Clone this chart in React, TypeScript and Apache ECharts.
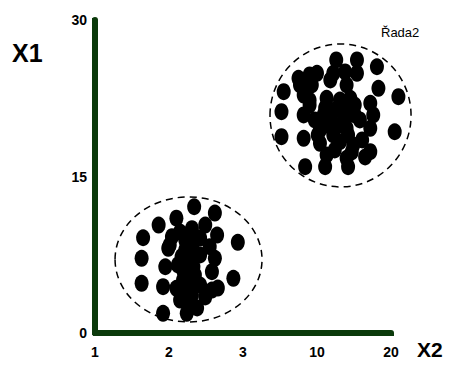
import React, { useEffect, useRef } from "react";
import * as echarts from "echarts";

const xTickLabels = ["1", "2", "3", "10", "20"];
const yTicks = [0, 15, 30];
const seriesName = "Řada2";

// cluster 1 points [x position (axis index units), X1 value]
const cluster1: number[][] = [
  [1.34, 12.1], [1.62, 11.5], [1.1, 11.0], [0.86, 10.35], [1.31, 10.0],
  [0.65, 9.13], [1.04, 9.23], [1.65, 9.39], [1.93, 8.69], [0.99, 8.12],
  [1.31, 8.12], [1.55, 8.27], [0.63, 7.16], [1.17, 7.31], [1.62, 7.16],
  [0.95, 6.35], [1.19, 6.04], [1.33, 6.35], [1.58, 5.88], [1.87, 5.24],
  [0.63, 4.76], [0.92, 4.44], [1.1, 4.28], [1.31, 4.76], [1.31, 3.64],
  [1.49, 3.45], [1.58, 4.12], [1.28, 2.68], [0.92, 1.89], [1.24, 1.89],
  [1.22, 8.91], [1.26, 7.0], [1.19, 5.08], [1.42, 9.1], [1.2, 3.2],
  [1.15, 9.68], [1.35, 8.91], [1.22, 7.96], [1.42, 7.48], [1.12, 6.52],
  [1.35, 5.56], [1.22, 4.12], [1.42, 4.6], [1.15, 3.16], [1.38, 2.4],
  [1.49, 10.35], [1.01, 8.43], [1.66, 4.31],
];

// cluster 2 points
const cluster2: number[][] = [
  [3.26, 26.17], [3.54, 26.17], [3.81, 25.52], [3.0, 24.89], [2.75, 24.41],
  [3.22, 24.89], [3.54, 24.89], [3.4, 23.77], [2.93, 23.77], [2.55, 23.13],
  [3.83, 23.45], [4.1, 22.65], [2.82, 22.81], [3.13, 22.5], [3.45, 22.5],
  [3.72, 22.02], [2.52, 21.21], [2.82, 20.9], [3.09, 20.9], [3.36, 21.21],
  [3.76, 20.9], [3.13, 19.94], [3.4, 19.62], [3.72, 19.62], [4.05, 19.29],
  [2.52, 18.82], [2.82, 18.66], [3.04, 18.18], [3.31, 18.34], [3.49, 18.02],
  [3.72, 17.38], [3.65, 16.87], [3.13, 17.06], [3.4, 16.74], [2.84, 15.94],
  [3.11, 15.94], [3.42, 15.94], [3.24, 21.37], [3.31, 19.94], [3.04, 19.46],
  [3.51, 20.9], [2.9, 22.3],
  [2.9, 21.85], [3.11, 21.57], [3.31, 22.33], [3.51, 21.85], [2.97, 20.42],
  [3.18, 20.42], [3.38, 20.61], [3.58, 20.42], [3.01, 18.98], [3.22, 18.98],
  [3.42, 18.98], [3.61, 18.5], [3.24, 17.54], [3.47, 17.35], [2.77, 23.77],
  [3.18, 24.25], [3.38, 25.02], [2.9, 24.73],
];

// dashed cluster outlines: [centre x, centre y, radius x, radius y]
const clusterOutlines: number[][] = [
  [1.264, 7.05, 0.993, 5.99],
  [3.318, 20.85, 0.953, 6.85],
];

const axisColor = "#0b3a0b";
const font = "Arial, 'Liberation Sans', sans-serif";

export default function App() {
  const ref = useRef<HTMLDivElement>(null);
  useEffect(() => {
    document.body.style.margin = "0";
    const chart = echarts.init(ref.current!, null, { renderer: "svg" });
    chart.setOption({
      animation: false,
      backgroundColor: "#ffffff",
      grid: { left: 95, right: 59, top: 20, bottom: 34 },
      legend: {
        data: [{ name: seriesName, icon: "none" }],
        left: 371,
        top: 21,
        itemWidth: 0,
        itemHeight: 0,
        textStyle: { fontFamily: font, fontSize: 13, color: "#000" },
      },
      graphic: [
        { type: "text", left: 12, top: 40, style: { text: "X1", fontFamily: font, fontSize: 25, fontWeight: "bold", fill: "#000" } },
        { type: "text", left: 417, top: 339, style: { text: "X2", fontFamily: font, fontSize: 21, fontWeight: "bold", fill: "#000" } },
      ],
      xAxis: {
        type: "value",
        min: 0,
        max: 4,
        interval: 1,
        splitLine: { show: false },
        axisLine: { lineStyle: { color: axisColor, width: 6 } },
        axisTick: { show: true, length: 3, lineStyle: { color: axisColor, width: 5 } },
        axisLabel: {
          formatter: (v: number) => xTickLabels[Math.round(v)] ?? "",
          fontFamily: font,
          fontSize: 14,
          fontWeight: "bold",
          color: "#000",
          margin: 12,
        },
      },
      yAxis: {
        type: "value",
        min: yTicks[0],
        max: yTicks[yTicks.length - 1],
        interval: 15,
        splitLine: { show: false },
        axisLine: { lineStyle: { color: axisColor, width: 6 } },
        axisTick: { show: true, length: 3, lineStyle: { color: axisColor, width: 4 } },
        axisLabel: {
          fontFamily: font,
          fontSize: 14,
          fontWeight: "bold",
          color: "#000",
          margin: 8,
        },
      },
      series: [
        {
          type: "custom",
          name: "outline",
          silent: true,
          clip: false,
          data: clusterOutlines,
          renderItem: (params: any, api: any) => {
            const c = api.coord([api.value(0), api.value(1)]);
            const s = api.size([api.value(2), api.value(3)]);
            return {
              type: "ellipse",
              shape: { cx: c[0], cy: c[1], rx: s[0], ry: s[1] },
              style: { fill: "none", stroke: "#000", lineWidth: 1.5, lineDash: [7, 5] },
            };
          },
          z: 1,
        },
        {
          type: "scatter",
          name: seriesName,
          clip: false,
          symbol: "circle",
          symbolSize: [14, 17],
          itemStyle: { color: "#000", opacity: 1 },
          data: [...cluster1, ...cluster2],
          z: 2,
        },
      ],
    });
    return () => chart.dispose();
  }, []);
  return <div ref={ref} style={{ position: "fixed", left: 0, top: 0, width: 450, height: 367 }} />;
}
